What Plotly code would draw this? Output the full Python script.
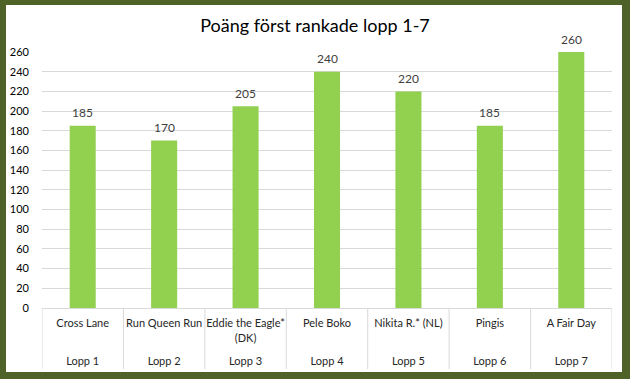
import plotly.graph_objects as go

# ---- data ----
horses = ["Cross Lane", "Run Queen Run", "Eddie the Eagle*<br>(DK)", "Pele Boko",
          "Nikita R.* (NL)", "Pingis", "A Fair Day"]
races = ["Lopp 1", "Lopp 2", "Lopp 3", "Lopp 4", "Lopp 5", "Lopp 6", "Lopp 7"]
points = [185, 170, 205, 240, 220, 185, 260]
y_ticks = list(range(0, 261, 20))
title_text = "Poäng först rankade lopp 1-7"

# ---- geometry ----
W, H = 630, 379
L, R, T, B = 42, 18, 52, 33
plot_h = H - T - B
axis_px = 308  # pixel y of the value axis zero line

def py(pix):
    return (H - B - pix) / plot_h

def px(pix):
    return (pix - L) / (W - L - R)

dom_bottom = py(axis_px)
FONT = "Lato"
GRID = "#D9D9D9"

idx = list(range(len(races)))

fig = go.Figure()
fig.add_trace(go.Bar(
    x=idx, y=points, marker_color="#92D050", marker_line_width=0,
    width=0.32, hoverinfo="skip", xaxis="x", yaxis="y",
))
# invisible helper trace so the second (race) category axis is rendered
fig.add_trace(go.Scatter(
    x=idx, y=[None] * len(idx), mode="markers", marker_opacity=0,
    hoverinfo="skip", xaxis="x2", yaxis="y", showlegend=False,
))

# value labels above bars
annotations = [dict(x=i, y=v, xref="x", yref="y", text=str(v), showarrow=False,
                    yanchor="middle", yshift=13,
                    font=dict(family=FONT, size=12, color="#404040"))
               for i, v in zip(idx, points)]

shapes = [dict(type="rect", xref="paper", yref="paper", x0=px(6), x1=px(622),
               y0=py(372), y1=py(5), fillcolor="white", line_width=0, layer="below")]
for i in range(len(races) + 1):
    shapes.append(dict(type="line", xref="x", yref="paper", x0=i - 0.5, x1=i - 0.5,
                       y0=dom_bottom, y1=py(369), line=dict(color=GRID, width=1)))

fig.update_layout(
    width=W, height=H, margin=dict(l=L, r=R, t=T, b=B, autoexpand=False),
    paper_bgcolor="#4F6228", plot_bgcolor="white",
    showlegend=False,
    title=dict(text=title_text, x=0.5, xref="container", xanchor="center",
               y=1 - 26 / H, yref="container", yanchor="middle",
               font=dict(family=FONT, size=18, color="#000000")),
    xaxis=dict(range=[-0.5, len(races) - 0.5], tickmode="array", tickvals=idx,
               ticktext=horses, showgrid=False, zeroline=False, showline=True,
               linecolor=GRID, linewidth=1, ticks="", automargin=False,
               ticklabelstandoff=5,
               tickfont=dict(family=FONT, size=11, color="#262626"),
               domain=[0, 1], anchor="y", fixedrange=True),
    xaxis2=dict(range=[-0.5, len(races) - 0.5], tickmode="array", tickvals=idx,
                ticktext=races, showgrid=False, zeroline=False, showline=False,
                ticks="", overlaying="x", anchor="free", position=0,
                automargin=False, side="bottom", ticklabelstandoff=7,
                tickfont=dict(family=FONT, size=11, color="#262626"),
                fixedrange=True),
    yaxis=dict(range=[0, 260], tickmode="array", tickvals=y_ticks,
               showgrid=True, gridcolor=GRID, gridwidth=1, zeroline=False,
               showline=False, ticks="", domain=[dom_bottom, 1], automargin=False,
               tickfont=dict(family=FONT, size=11, color="#000000"),
               ticklabelstandoff=12, fixedrange=True),
    annotations=annotations,
    shapes=shapes,
    bargap=0.68,
)

fig.write_html("out.html", config={"displayModeBar": False},
               post_script="document.body.style.margin='0px';")
